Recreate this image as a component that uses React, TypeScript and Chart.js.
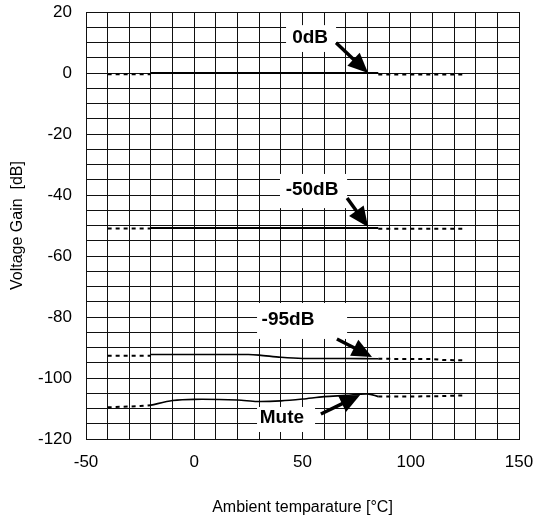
import React, { useEffect, useRef } from 'react';
import { Chart, registerables } from 'chart.js';

Chart.register(...registerables);

// ---- tick labels ----
const xTickLabels = [-50, 0, 50, 100, 150];
const yTickLabels = [-120, -100, -80, -60, -40, -20, 0, 20];

// ---- 0 dB ----
const g0DashLX = [-40, -20];
const g0DashLY = [-0.4, -0.4];
const g0SolidX = [-20, 85];
const g0SolidY = [0, 0];
const g0DashRX = [85, 125];
const g0DashRY = [-0.5, -0.5];

// ---- -50 dB ----
const g50DashLX = [-40, -20];
const g50DashLY = [-51.0, -51.0];
const g50SolidX = [-20, 85];
const g50SolidY = [-50.8, -50.8];
const g50DashRX = [85, 125];
const g50DashRY = [-51.1, -51.1];

// ---- -95 dB ----
const g95DashLX = [-40, -20];
const g95DashLY = [-92.7, -92.7];
const g95SolidX = [-20, 0, 25, 30, 40, 50, 70, 85];
const g95SolidY = [-92.3, -92.3, -92.3, -92.5, -93.2, -93.6, -93.6, -93.7];
const g95DashRX = [85, 110, 115, 125];
const g95DashRY = [-93.7, -93.8, -94.1, -94.2];

// ---- Mute ----
const muteDashLX = [-40, -25, -20];
const muteDashLY = [-109.6, -109.2, -108.9];
const muteSolidX = [-20, -10, 0, 20, 29, 40, 50, 60, 70, 80, 85];
const muteSolidY = [-108.9, -107.4, -107.0, -107.2, -107.7, -107.5, -106.9, -106.1, -105.7, -105.2, -106.1];
const muteDashRX = [85, 110, 125];
const muteDashRY = [-106.1, -106.0, -105.7];

// ---- annotation labels ----
const noteTexts = ['0dB', '-50dB', '-95dB', 'Mute'];
const noteTextX = [53.5, 54.4, 43.3, 40.5];
const noteTextY = [11.4, -38.4, -81, -113.1];
const noteBoxX1 = [42.4, 39.6, 29, 29];
const noteBoxX2 = [65.5, 70.6, 70.6, 55.8];
const noteBoxY1 = [15.7, -33.1, -75.4, -109.5];
const noteBoxY2 = [6.9, -44.3, -87.2, -117.7];
const arrowFromX = [65.5, 70.6, 65.9, 58.5];
const arrowFromY = [9.9, -41, -87.2, -111.8];
const arrowToX = [80.3, 80.3, 82.1, 76.6];
const arrowToY = [0, -50.5, -93.1, -105.6];

const FONT = '"Liberation Sans", Arial, Helvetica, sans-serif';

function pts(xs: number[], ys: number[]) {
  return xs.map((x, i) => ({ x, y: ys[i] }));
}

function solid(xs: number[], ys: number[], w = 1.6) {
  return {
    data: pts(xs, ys),
    showLine: true,
    borderColor: '#000',
    borderWidth: w,
    pointRadius: 0,
    tension: 0.3,
    fill: false,
  };
}

function dashed(xs: number[], ys: number[]) {
  return {
    data: pts(xs, ys),
    showLine: true,
    borderColor: '#000',
    borderWidth: 2,
    borderDash: [4, 4],
    pointRadius: 0,
    tension: 0,
    fill: false,
  };
}

const notesPlugin = {
  id: 'notes',
  beforeDatasetsDraw(chart: any) {
    const { ctx } = chart;
    const xs = chart.scales.x;
    const ys = chart.scales.y;
    ctx.save();
    ctx.fillStyle = '#ffffff';
    for (let i = 0; i < noteTexts.length; i++) {
      const x1 = xs.getPixelForValue(noteBoxX1[i]);
      const x2 = xs.getPixelForValue(noteBoxX2[i]);
      const y1 = ys.getPixelForValue(noteBoxY1[i]);
      const y2 = ys.getPixelForValue(noteBoxY2[i]);
      ctx.fillRect(x1, y1, x2 - x1, y2 - y1);
    }
    ctx.restore();
  },
  afterDatasetsDraw(chart: any) {
    const { ctx } = chart;
    const xs = chart.scales.x;
    const ys = chart.scales.y;
    ctx.save();
    ctx.fillStyle = '#000';
    ctx.strokeStyle = '#000';
    ctx.font = `bold 19px ${FONT}`;
    ctx.textAlign = 'center';
    ctx.textBaseline = 'middle';
    for (let i = 0; i < noteTexts.length; i++) {
      ctx.fillText(noteTexts[i], xs.getPixelForValue(noteTextX[i]), ys.getPixelForValue(noteTextY[i]));
      const fx = xs.getPixelForValue(arrowFromX[i]);
      const fy = ys.getPixelForValue(arrowFromY[i]);
      const tx = xs.getPixelForValue(arrowToX[i]);
      const ty = ys.getPixelForValue(arrowToY[i]);
      const ang = Math.atan2(ty - fy, tx - fx);
      const headLen = 20;
      const headHalf = 9;
      const bx = tx - headLen * Math.cos(ang);
      const by = ty - headLen * Math.sin(ang);
      ctx.lineWidth = 3.5;
      ctx.beginPath();
      ctx.moveTo(fx, fy);
      ctx.lineTo(bx + 2 * Math.cos(ang), by + 2 * Math.sin(ang));
      ctx.stroke();
      ctx.beginPath();
      ctx.moveTo(tx, ty);
      ctx.lineTo(bx + headHalf * Math.sin(ang), by - headHalf * Math.cos(ang));
      ctx.lineTo(bx - headHalf * Math.sin(ang), by + headHalf * Math.cos(ang));
      ctx.closePath();
      ctx.fill();
    }
    ctx.restore();
  },
};

export default function App() {
  const ref = useRef<HTMLCanvasElement | null>(null);

  useEffect(() => {
    if (!ref.current) return;
    const chart = new Chart(ref.current, {
      type: 'scatter',
      data: {
        datasets: [
          dashed(g0DashLX, g0DashLY),
          solid(g0SolidX, g0SolidY, 2),
          dashed(g0DashRX, g0DashRY),
          dashed(g50DashLX, g50DashLY),
          solid(g50SolidX, g50SolidY, 2),
          dashed(g50DashRX, g50DashRY),
          dashed(g95DashLX, g95DashLY),
          solid(g95SolidX, g95SolidY),
          dashed(g95DashRX, g95DashRY),
          dashed(muteDashLX, muteDashLY),
          solid(muteSolidX, muteSolidY),
          dashed(muteDashRX, muteDashRY),
        ] as any,
      },
      options: {
        animation: false,
        responsive: true,
        maintainAspectRatio: false,
        layout: { padding: { top: 12, right: 19, left: 0, bottom: 0 } },
        plugins: {
          legend: { display: false },
          tooltip: { enabled: false },
        },
        scales: {
          x: {
            type: 'linear',
            min: -50,
            max: 150,
            afterFit(scale: any) {
              scale.height = 78;
              scale.paddingLeft = 0;
              scale.paddingRight = 0;
            },
            ticks: {
              stepSize: 10,
              autoSkip: false,
              maxRotation: 0,
              padding: 13,
              color: '#000',
              font: { family: FONT, size: 17 },
              callback: (v: any) => (xTickLabels.includes(Number(v)) ? String(v) : ''),
            },
            grid: { color: '#111', lineWidth: 1, drawTicks: false },
            border: { color: '#111', width: 1 },
            title: {
              display: true,
              text: 'Ambient temparature [°C]',
              color: '#000',
              font: { family: FONT, size: 16 },
              padding: { top: 0, bottom: 0 },
            },
          },
          y: {
            type: 'linear',
            min: -120,
            max: 20,
            afterFit(scale: any) {
              scale.width = 86;
              scale.paddingTop = 0;
              scale.paddingBottom = 0;
            },
            ticks: {
              stepSize: 5,
              autoSkip: false,
              padding: 14,
              color: '#000',
              font: { family: FONT, size: 17 },
              callback: (v: any) => (yTickLabels.includes(Number(v)) ? String(v) : ''),
            },
            grid: { color: '#111', lineWidth: 1, drawTicks: false },
            border: { color: '#111', width: 1 },
            title: {
              display: true,
              text: 'Voltage Gain  [dB]',
              color: '#000',
              font: { family: FONT, size: 16 },
              padding: { top: 8, bottom: 0 },
            },
          },
        },
      },
      plugins: [notesPlugin],
    });
    return () => chart.destroy();
  }, []);

  return (
    <div style={{ position: 'fixed', left: 0, top: 0, width: 538, height: 517, background: '#fff' }}>
      <canvas ref={ref} />
    </div>
  );
}
